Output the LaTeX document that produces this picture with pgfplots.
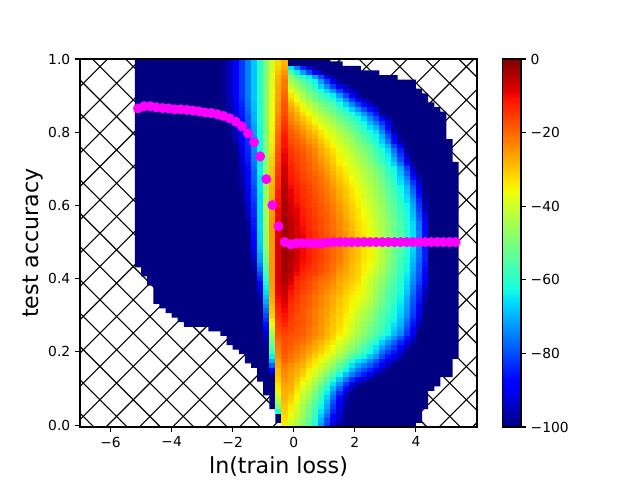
\documentclass[border=0pt]{standalone}
\usepackage{fontspec}
\setmainfont{DejaVu Sans}
\usepackage{pgfplots}
\usepackage{pgfplotstable}
\pgfplotsset{compat=1.18}

% one heatmap cell: 0.2 wide, 0.0125 high in data units
\pgfdeclareplotmark{heatcell}{%
  \pgfpathrectangle{\pgfpoint{-2.29pt}{-1.73pt}}{\pgfpoint{4.58pt}{3.46pt}}%
  \pgfusepathqfill}

\definecolor{jetlow}{rgb}{0,0,0.5}
\definecolor{dotcol}{rgb}{1,0,1}

% first column: row k (y=k/80), then columns x=-2.3,-2.1,...,4.3
\pgfplotstableread[header=false]{
80 -99 -95 -89 -82 -75 -68 -60 -50 -40 -32 -28 -100 -100 -100 -100 -100 -100 -100 -100 -100 -100 -100 -100 -100 -100 -100 -100 -100 -100 -100 -100 -100 -100 -100
79 -99 -95 -89 -82 -75 -68 -60 -50 -40 -32 -28 -100 -100 -100 -100 -100 -100 -100 -100 -100 -100 -100 -100 -100 -100 -100 -100 -100 -100 -100 -100 -100 -100 -100
78 -99 -95 -89 -82 -75 -68 -60 -50 -39 -31 -27 -65 -75 -84 -92 -98 -100 -100 -100 -100 -100 -100 -100 -100 -100 -100 -100 -100 -100 -100 -100 -100 -100 -100
77 -99 -95 -89 -82 -75 -68 -60 -49 -39 -30 -25 -55 -64 -72 -80 -88 -95 -100 -100 -100 -100 -100 -100 -100 -100 -100 -100 -100 -100 -100 -100 -100 -100 -100
76 -99 -95 -89 -82 -75 -68 -60 -49 -38 -28 -23 -48 -54 -60 -64 -72 -80 -88 -97 -100 -100 -100 -100 -100 -100 -100 -100 -100 -100 -100 -100 -100 -100 -100
75 -99 -95 -89 -82 -75 -68 -60 -49 -38 -28 -22 -45 -49 -54 -59 -63 -72 -81 -90 -98 -100 -100 -100 -100 -100 -100 -100 -100 -100 -100 -100 -100 -100 -100
74 -99 -95 -89 -82 -75 -68 -60 -49 -38 -27 -22 -41 -46 -51 -55 -60 -67 -74 -82 -90 -96 -99 -100 -100 -100 -100 -100 -100 -100 -100 -100 -100 -100 -100
73 -99 -95 -89 -82 -75 -68 -60 -49 -37 -27 -21 -37 -42 -47 -52 -56 -61 -66 -73 -81 -88 -94 -98 -100 -100 -100 -100 -100 -100 -100 -100 -100 -100 -100
72 -99 -95 -89 -82 -75 -68 -60 -49 -37 -26 -20 -33 -39 -44 -49 -53 -57 -60 -64 -72 -81 -89 -96 -100 -100 -100 -100 -100 -100 -100 -100 -100 -100 -100
71 -99 -96 -90 -83 -76 -68 -60 -49 -37 -26 -19 -31 -36 -41 -46 -50 -54 -57 -60 -66 -74 -82 -89 -95 -99 -100 -100 -100 -100 -100 -100 -100 -100 -100
70 -99 -96 -90 -84 -76 -69 -61 -49 -36 -25 -18 -28 -33 -38 -42 -46 -50 -53 -56 -61 -67 -74 -81 -87 -93 -98 -100 -100 -100 -100 -100 -100 -100 -100
69 -100 -97 -91 -85 -77 -69 -61 -49 -36 -25 -18 -26 -30 -35 -39 -43 -47 -50 -53 -57 -62 -67 -73 -80 -86 -92 -99 -100 -100 -100 -100 -100 -100 -100
68 -100 -97 -92 -85 -78 -70 -61 -49 -36 -24 -17 -24 -28 -32 -36 -40 -43 -47 -50 -54 -58 -61 -66 -73 -79 -85 -98 -100 -100 -100 -100 -100 -100 -100
67 -100 -98 -93 -86 -79 -70 -61 -49 -36 -23 -16 -23 -26 -30 -33 -37 -41 -44 -47 -51 -55 -58 -62 -67 -74 -80 -88 -96 -100 -100 -100 -100 -100 -100
66 -100 -98 -93 -87 -79 -71 -62 -50 -35 -23 -15 -22 -25 -28 -31 -35 -38 -42 -45 -48 -52 -55 -59 -63 -69 -75 -82 -91 -99 -100 -100 -100 -100 -100
65 -100 -99 -94 -88 -80 -72 -62 -50 -35 -22 -14 -20 -23 -26 -29 -32 -36 -39 -42 -46 -49 -53 -56 -60 -65 -70 -78 -87 -98 -100 -100 -100 -100 -100
64 -100 -99 -95 -88 -81 -72 -62 -50 -35 -21 -13 -19 -21 -24 -27 -30 -33 -37 -40 -43 -47 -50 -54 -58 -61 -65 -74 -84 -97 -100 -100 -100 -100 -100
63 -100 -99 -96 -89 -82 -73 -62 -50 -34 -20 -12 -18 -20 -23 -26 -28 -32 -35 -38 -41 -45 -48 -52 -56 -59 -63 -70 -79 -88 -98 -100 -100 -100 -100
62 -100 -100 -97 -90 -83 -73 -63 -50 -34 -20 -11 -17 -19 -21 -24 -26 -30 -33 -37 -40 -43 -46 -50 -53 -57 -61 -67 -75 -87 -96 -100 -100 -100 -100
61 -100 -100 -98 -91 -83 -74 -63 -50 -33 -19 -11 -16 -18 -20 -22 -25 -28 -32 -35 -38 -41 -44 -48 -51 -54 -59 -64 -70 -81 -91 -99 -100 -100 -100
60 -100 -100 -99 -92 -84 -74 -63 -50 -33 -18 -10 -15 -17 -19 -21 -23 -27 -30 -33 -37 -40 -43 -46 -49 -52 -57 -61 -66 -76 -85 -98 -100 -100 -100
59 -100 -100 -99 -93 -85 -75 -63 -49 -32 -17 -9 -14 -16 -18 -20 -23 -26 -29 -32 -35 -38 -41 -45 -48 -51 -55 -60 -64 -73 -82 -94 -100 -100 -100
58 -100 -100 -100 -93 -85 -75 -64 -49 -31 -17 -9 -14 -16 -18 -20 -22 -25 -28 -31 -35 -38 -40 -44 -47 -50 -54 -59 -63 -70 -80 -92 -100 -100 -100
57 -100 -100 -100 -94 -86 -76 -64 -48 -31 -16 -8 -13 -15 -17 -19 -21 -24 -27 -30 -34 -36 -39 -42 -45 -48 -52 -57 -61 -67 -76 -87 -97 -100 -100
56 -100 -100 -100 -95 -87 -77 -64 -48 -30 -15 -7 -12 -15 -17 -19 -21 -23 -26 -29 -32 -35 -38 -41 -44 -47 -50 -54 -59 -63 -71 -81 -94 -100 -100
55 -100 -100 -100 -96 -88 -78 -64 -48 -30 -15 -7 -12 -14 -16 -18 -20 -22 -25 -28 -31 -34 -37 -40 -43 -46 -49 -53 -58 -62 -69 -78 -90 -98 -100
54 -100 -100 -100 -97 -88 -78 -65 -48 -29 -14 -6 -11 -14 -16 -18 -19 -21 -24 -27 -30 -33 -36 -39 -42 -45 -48 -52 -56 -61 -67 -75 -86 -96 -100
53 -100 -100 -100 -97 -89 -79 -65 -47 -29 -14 -6 -11 -13 -15 -17 -19 -21 -23 -26 -29 -32 -35 -38 -41 -44 -47 -51 -55 -59 -65 -72 -82 -93 -100
52 -100 -100 -100 -98 -90 -80 -65 -47 -28 -13 -5 -10 -12 -14 -16 -18 -20 -22 -25 -28 -31 -34 -37 -40 -43 -46 -50 -54 -58 -63 -69 -79 -91 -100
51 -100 -100 -100 -98 -91 -81 -65 -47 -28 -12 -5 -9 -12 -14 -16 -18 -20 -22 -24 -27 -30 -33 -36 -39 -42 -45 -49 -53 -57 -62 -68 -77 -88 -99
50 -100 -100 -100 -99 -91 -81 -66 -47 -27 -12 -5 -9 -11 -14 -15 -17 -19 -21 -24 -27 -30 -33 -35 -39 -42 -45 -48 -52 -56 -61 -66 -75 -86 -98
49 -100 -100 -100 -99 -92 -82 -66 -46 -27 -11 -4 -8 -11 -13 -15 -17 -19 -21 -23 -26 -29 -32 -35 -38 -41 -44 -48 -51 -55 -60 -65 -73 -84 -97
48 -100 -100 -100 -100 -93 -83 -66 -46 -26 -11 -4 -7 -10 -13 -15 -16 -18 -20 -22 -25 -28 -31 -34 -37 -40 -43 -47 -50 -54 -59 -63 -71 -82 -96
47 -100 -100 -100 -100 -94 -84 -66 -46 -26 -10 -4 -7 -9 -12 -14 -16 -18 -20 -22 -25 -28 -31 -33 -36 -39 -43 -46 -50 -53 -58 -63 -70 -81 -94
46 -100 -100 -100 -100 -95 -84 -66 -46 -26 -10 -4 -6 -9 -12 -14 -16 -18 -19 -22 -24 -27 -30 -33 -36 -39 -42 -46 -49 -53 -58 -62 -69 -79 -92
45 -100 -100 -100 -100 -96 -85 -66 -46 -25 -10 -3 -6 -8 -11 -14 -15 -17 -19 -21 -24 -27 -30 -33 -35 -38 -42 -45 -49 -52 -57 -62 -68 -78 -90
44 -100 -100 -100 -100 -97 -85 -66 -46 -25 -9 -3 -5 -8 -11 -13 -15 -17 -19 -21 -23 -26 -29 -32 -35 -38 -41 -45 -48 -52 -56 -61 -66 -76 -88
43 -100 -100 -100 -100 -98 -86 -66 -46 -25 -9 -3 -5 -8 -10 -13 -15 -17 -19 -21 -23 -26 -29 -32 -34 -37 -41 -44 -48 -52 -56 -61 -66 -76 -87
42 -100 -100 -100 -100 -99 -87 -67 -47 -25 -9 -3 -5 -8 -10 -12 -14 -16 -18 -20 -23 -25 -28 -31 -34 -37 -40 -44 -48 -51 -55 -60 -66 -75 -87
41 -100 -100 -100 -100 -99 -87 -67 -47 -25 -8 -3 -5 -7 -9 -12 -14 -16 -18 -20 -22 -25 -28 -31 -33 -36 -40 -43 -47 -51 -55 -60 -65 -75 -86
40 -100 -100 -100 -100 -100 -88 -67 -47 -25 -8 -3 -5 -7 -9 -12 -14 -16 -18 -20 -22 -25 -28 -30 -33 -36 -40 -43 -47 -51 -55 -60 -65 -75 -85
39 -100 -100 -100 -100 -100 -90 -68 -48 -25 -8 -3 -4 -7 -9 -12 -14 -16 -18 -20 -22 -25 -28 -30 -33 -36 -39 -43 -47 -51 -55 -60 -66 -75 -85
38 -100 -100 -100 -100 -100 -91 -69 -49 -25 -8 -3 -4 -7 -10 -12 -14 -16 -18 -20 -22 -25 -28 -30 -33 -35 -39 -43 -47 -51 -56 -61 -67 -76 -85
37 -100 -100 -100 -100 -100 -93 -71 -51 -25 -8 -3 -4 -7 -10 -12 -14 -16 -18 -20 -22 -25 -28 -30 -33 -35 -39 -43 -47 -52 -56 -61 -68 -76 -85
36 -100 -100 -100 -100 -100 -95 -72 -52 -25 -8 -3 -4 -7 -10 -12 -14 -16 -18 -20 -22 -25 -28 -30 -33 -35 -39 -43 -47 -52 -57 -62 -69 -77 -85
35 -100 -100 -100 -100 -100 -96 -75 -54 -25 -8 -3 -5 -8 -11 -13 -15 -17 -19 -21 -23 -26 -29 -31 -34 -36 -40 -44 -48 -53 -58 -63 -70 -78 -86
34 -100 -100 -100 -100 -100 -98 -78 -56 -25 -8 -3 -5 -9 -12 -14 -15 -17 -19 -21 -24 -26 -29 -31 -34 -37 -41 -45 -49 -53 -58 -63 -71 -78 -87
33 -100 -100 -100 -100 -100 -99 -81 -58 -25 -8 -4 -6 -10 -13 -15 -16 -18 -20 -22 -25 -27 -29 -31 -35 -38 -42 -46 -50 -54 -59 -64 -72 -79 -88
32 -100 -100 -100 -100 -100 -100 -84 -60 -25 -8 -4 -7 -12 -14 -16 -18 -20 -21 -23 -26 -28 -30 -32 -36 -40 -44 -47 -51 -55 -60 -65 -73 -80 -89
31 -100 -100 -100 -100 -100 -100 -87 -62 -25 -8 -5 -8 -13 -15 -17 -19 -21 -22 -24 -27 -29 -31 -33 -37 -40 -45 -48 -52 -56 -61 -66 -74 -81 -91
30 -100 -100 -100 -100 -100 -100 -91 -64 -26 -9 -6 -10 -13 -15 -17 -19 -22 -23 -25 -27 -30 -32 -34 -37 -41 -45 -49 -53 -57 -61 -67 -75 -83 -93
29 -100 -100 -100 -100 -100 -100 -94 -66 -26 -9 -6 -11 -14 -16 -18 -20 -22 -24 -26 -28 -31 -33 -35 -38 -41 -46 -50 -54 -58 -62 -68 -77 -84 -94
28 -100 -100 -100 -100 -100 -100 -97 -68 -27 -10 -7 -12 -15 -17 -19 -21 -23 -25 -27 -29 -32 -34 -36 -39 -42 -46 -51 -55 -58 -63 -70 -78 -85 -96
27 -100 -100 -100 -100 -100 -100 -98 -71 -28 -11 -8 -13 -15 -17 -19 -21 -23 -25 -27 -30 -32 -35 -37 -40 -43 -47 -52 -55 -59 -64 -71 -79 -86 -97
26 -100 -100 -100 -100 -100 -100 -99 -74 -29 -12 -9 -14 -16 -18 -19 -21 -23 -25 -28 -30 -33 -35 -38 -41 -44 -48 -53 -56 -60 -65 -72 -80 -88 -98
25 -100 -100 -100 -100 -100 -100 -100 -77 -30 -13 -10 -14 -16 -18 -20 -22 -24 -26 -28 -31 -33 -36 -40 -43 -46 -50 -54 -57 -61 -66 -73 -81 -90 -99
24 -100 -100 -100 -100 -100 -100 -100 -80 -31 -14 -11 -15 -17 -18 -20 -22 -24 -26 -29 -31 -34 -37 -41 -44 -47 -51 -55 -58 -62 -67 -74 -82 -91 -100
23 -100 -100 -100 -100 -100 -100 -100 -83 -34 -15 -12 -15 -17 -18 -20 -22 -24 -27 -29 -32 -35 -38 -42 -45 -48 -52 -56 -59 -63 -69 -76 -84 -93 -100
22 -100 -100 -100 -100 -100 -100 -100 -86 -37 -16 -13 -16 -17 -18 -20 -22 -25 -27 -30 -32 -35 -39 -43 -46 -49 -53 -56 -60 -65 -70 -78 -86 -95 -100
21 -100 -100 -100 -100 -100 -100 -100 -90 -41 -17 -15 -16 -18 -19 -21 -23 -25 -28 -30 -33 -36 -40 -44 -47 -51 -54 -57 -62 -67 -72 -80 -88 -98 -100
20 -100 -100 -100 -100 -100 -100 -100 -93 -45 -18 -16 -17 -18 -19 -21 -23 -25 -28 -31 -34 -37 -41 -45 -48 -52 -55 -59 -63 -69 -74 -82 -90 -100 -100
19 -100 -100 -100 -100 -100 -100 -100 -95 -48 -19 -17 -18 -19 -20 -22 -24 -26 -29 -32 -36 -39 -43 -47 -50 -54 -58 -63 -68 -73 -79 -86 -93 -100 -100
18 -100 -100 -100 -100 -100 -100 -100 -97 -51 -21 -17 -18 -20 -21 -23 -26 -28 -31 -34 -38 -41 -45 -49 -53 -57 -61 -67 -73 -78 -84 -91 -97 -100 -100
17 -100 -100 -100 -100 -100 -100 -100 -99 -54 -22 -18 -19 -21 -23 -25 -27 -30 -33 -36 -40 -44 -48 -52 -56 -60 -65 -72 -77 -82 -88 -95 -100 -100 -100
16 -100 -100 -100 -100 -100 -100 -100 -100 -58 -23 -18 -20 -22 -24 -26 -29 -31 -34 -38 -42 -46 -50 -54 -58 -62 -68 -76 -81 -85 -92 -99 -100 -100 -100
15 -100 -100 -100 -100 -100 -100 -100 -100 -64 -24 -19 -21 -23 -25 -28 -31 -34 -37 -41 -45 -50 -55 -59 -63 -68 -73 -80 -86 -90 -96 -100 -100 -100 -100
14 -100 -100 -100 -100 -100 -100 -100 -100 -70 -26 -20 -22 -24 -27 -30 -33 -37 -40 -44 -49 -54 -60 -65 -69 -74 -79 -85 -91 -95 -100 -100 -100 -100 -100
13 -100 -100 -100 -100 -100 -100 -100 -100 -78 -27 -22 -24 -26 -28 -32 -35 -40 -43 -48 -53 -59 -65 -71 -75 -79 -84 -90 -96 -100 -100 -100 -100 -100 -100
12 -100 -100 -100 -100 -100 -100 -100 -100 -87 -29 -23 -25 -27 -30 -34 -38 -42 -46 -51 -57 -63 -70 -76 -80 -84 -89 -95 -100 -100 -100 -100 -100 -100 -100
11 -100 -100 -100 -100 -100 -100 -100 -100 -100 -30 -24 -26 -28 -31 -35 -40 -44 -50 -55 -62 -69 -75 -80 -85 -90 -95 -100 -100 -100 -100 -100 -100 -100 -100
10 -100 -100 -100 -100 -100 -100 -100 -100 -100 -31 -25 -26 -30 -34 -37 -43 -48 -54 -60 -68 -76 -83 -88 -93 -98 -100 -100 -100 -100 -100 -100 -100 -100 -100
9 -100 -100 -100 -100 -100 -100 -100 -100 -100 -33 -26 -27 -31 -36 -40 -45 -51 -57 -65 -73 -82 -90 -96 -100 -100 -100 -100 -100 -100 -100 -100 -100 -100 -100
8 -100 -100 -100 -100 -100 -100 -100 -100 -100 -34 -27 -28 -33 -39 -42 -48 -54 -61 -70 -78 -88 -96 -100 -100 -100 -100 -100 -100 -100 -100 -100 -100 -100 -100
7 -100 -100 -100 -100 -100 -100 -100 -100 -100 -38 -28 -29 -34 -40 -44 -50 -57 -64 -74 -83 -93 -99 -100 -100 -100 -100 -100 -100 -100 -100 -100 -100 -100 -100
6 -100 -100 -100 -100 -100 -100 -100 -100 -100 -42 -28 -31 -35 -42 -46 -52 -59 -67 -77 -87 -96 -100 -100 -100 -100 -100 -100 -100 -100 -100 -100 -100 -100 -100
5 -100 -100 -100 -100 -100 -100 -100 -100 -100 -46 -29 -32 -37 -43 -48 -54 -61 -69 -80 -89 -97 -100 -100 -100 -100 -100 -100 -100 -100 -100 -100 -100 -100 -100
4 -100 -100 -100 -100 -100 -100 -100 -100 -100 -50 -30 -34 -39 -45 -50 -56 -63 -71 -82 -91 -98 -100 -100 -100 -100 -100 -100 -100 -100 -100 -100 -100 -100 -100
3 -100 -100 -100 -100 -100 -100 -100 -100 -100 -62 -31 -35 -40 -46 -51 -58 -65 -74 -84 -92 -99 -100 -100 -100 -100 -100 -100 -100 -100 -100 -100 -100 -100 -100
2 -100 -100 -100 -100 -100 -100 -100 -100 -100 -100 -32 -37 -41 -47 -52 -59 -68 -77 -87 -93 -100 -100 -100 -100 -100 -100 -100 -100 -100 -100 -100 -100 -100 -100
1 -100 -100 -100 -100 -100 -100 -100 -100 -100 -100 -33 -38 -43 -48 -53 -60 -70 -80 -90 -94 -100 -100 -100 -100 -100 -100 -100 -100 -100 -100 -100 -100 -100 -100
0 -100 -100 -100 -100 -100 -100 -100 -100 -100 -100 -34 -40 -44 -49 -54 -62 -72 -82 -93 -97 -100 -100 -100 -100 -100 -100 -100 -100 -100 -100 -100 -100 -100 -100
}\heat

\begin{document}
\begin{tikzpicture}
\path[use as bounding box] (0,0) rectangle (6.4in,4.8in);

% hatching behind the axes, in picture pixels
\begin{scope}[x=0.01in,y=-0.01in,yshift=4.8in]
  \clip (80,59) rectangle (477,427);
  \foreach \k in {-15,...,20} {
    \draw[black,line width=0.8pt] ({33.333*\k},0) -- ({33.333*\k+480},480);
  }
  \foreach \k in {0,...,34} {
    \draw[black,line width=0.8pt] ({33.333*\k},0) -- ({33.333*\k-480},480);
  }
\end{scope}

\begin{axis}[
  at={(0.8in,0.53in)}, anchor=south west,
  scale only axis, width=3.97in, height=3.68in,
  xmin=-7, xmax=6, ymin=-0.005, ymax=1.0,
  axis on top, clip marker paths=true,
  axis line style={line width=0.8pt},
  tick align=outside, tick pos=left,
  major tick length=0.0486in,
  tick style={black,line width=0.8pt},
  xtick={-6,-4,-2,0,2,4},
  xticklabels={−6,−4,−2,0,2,4},
  ytick={0,0.2,0.4,0.6,0.8,1.0},
  yticklabels={0.0,0.2,0.4,0.6,0.8,1.0},
  tick label style={font=\fontsize{10}{12}\selectfont},
  every axis x label/.style={at={(axis description cs:0.5,0)},anchor=center,yshift=-0.395in},
  every axis y label/.style={at={(axis description cs:0,0.5)},rotate=90,anchor=center,yshift=0.47in},
  xlabel={\fontsize{16}{19}\selectfont ln(train loss)},
  ylabel={\fontsize{16}{19}\selectfont test accuracy},
  point meta min=-100, point meta max=0,
  colormap={jetm}{
    rgb(0)=(0,0,0.5) rgb(22)=(0,0,1) rgb(25)=(0,0,1) rgb(68)=(0,0.86,1)
    rgb(70)=(0,0.9,0.968) rgb(75)=(0.081,1,0.887) rgb(128)=(0.935,1,0.032)
    rgb(130)=(0.968,0.963,0) rgb(132)=(1,0.926,0) rgb(178)=(1,0.074,0)
    rgb(182)=(0.909,0,0) rgb(200)=(0.5,0,0)},
  colorbar,
  colorbar style={
    at={(1.0642,1)}, anchor=north west,
    width=0.185in, height=3.68in,
    ytick={-100,-80,-60,-40,-20,0},
    yticklabels={−100,−80,−60,−40,−20,0},
    ytick pos=right, yticklabel pos=right,
    tick align=outside,
    major tick length=0.0486in,
    axis line style={line width=0.8pt},
    tick style={black,line width=0.8pt},
    tick label style={font=\fontsize{10}{12}\selectfont},
  },
]

% the region that holds data, all at the floor value
\addplot[fill=jetlow,draw=none,forget plot] coordinates {
  (-5.2,1.0) (1.2,1.0) (1.2,0.99375) (1.6,0.99375) (1.6,0.98125) (2.2,0.98125)
  (2.2,0.96875) (2.8,0.96875) (2.8,0.95625) (3.4,0.95625) (3.4,0.94375) (4.0,0.94375)
  (4.0,0.91875) (4.2,0.91875) (4.2,0.90625) (4.4,0.90625) (4.4,0.88125) (4.6,0.88125)
  (4.6,0.86875) (4.8,0.86875) (4.8,0.85625) (5.0,0.85625) (5.0,0.78125) (5.2,0.78125)
  (5.2,0.71875) (5.4,0.71875) (5.4,0.18125) (5.2,0.18125) (5.2,0.13125) (4.8,0.13125)
  (4.8,0.10625) (4.6,0.10625) (4.6,0.09375) (4.4,0.09375) (4.4,0.04375) (4.2,0.04375)
  (4.2,0.00625) (4.0,0.00625) (4.0,-0.005) (-0.4,-0.005) (-0.4,0.00625) (-0.6,0.00625)
  (-0.6,0.04375) (-0.8,0.04375) (-0.8,0.08125) (-1.0,0.08125) (-1.0,0.11875) (-1.2,0.11875)
  (-1.2,0.15625) (-1.4,0.15625) (-1.4,0.16875) (-1.6,0.16875) (-1.6,0.19375) (-1.8,0.19375)
  (-1.8,0.20625) (-2.0,0.20625) (-2.0,0.21875) (-2.2,0.21875) (-2.2,0.24375) (-2.4,0.24375)
  (-2.4,0.25625) (-2.8,0.25625) (-2.8,0.26875) (-3.6,0.26875) (-3.6,0.28125) (-3.8,0.28125)
  (-3.8,0.29375) (-4.0,0.29375) (-4.0,0.30625) (-4.2,0.30625) (-4.2,0.31875) (-4.4,0.31875)
  (-4.4,0.33125) (-4.6,0.33125) (-4.6,0.38125) (-4.8,0.38125) (-4.8,0.40625) (-5.0,0.40625)
  (-5.0,0.43125) (-5.2,0.43125)
} -- cycle;

% coloured cells, one plot per column; floor cells are left to the region above
\pgfplotsinvokeforeach{1,...,34}{
  \addplot[scatter,only marks,mark=heatcell,forget plot,point meta=explicit]
    table[x expr={-2.5+0.2*#1},
          y expr={\thisrowno{#1}>-99.5 ? \thisrowno{0}/80 : nan},
          meta index=#1] {\heat};
}

% best test accuracy per bin
\addplot[only marks,mark=*,mark size=3.4pt,color=dotcol,mark options={fill=dotcol,draw=dotcol}] coordinates {
  (-5.1,0.865) (-4.9,0.871) (-4.7,0.871) (-4.5,0.868) (-4.3,0.866) (-4.1,0.865)
  (-3.9,0.8625) (-3.7,0.8625) (-3.5,0.861) (-3.3,0.859) (-3.1,0.857) (-2.9,0.854)
  (-2.7,0.8525) (-2.5,0.849) (-2.3,0.8445) (-2.1,0.838) (-1.9,0.829) (-1.7,0.816)
  (-1.5,0.797) (-1.3,0.773) (-1.1,0.734) (-0.9,0.672) (-0.7,0.601) (-0.5,0.543)
  (-0.3,0.5) (-0.1,0.494) (0.1,0.497) (0.3,0.497) (0.5,0.497) (0.7,0.497) (0.9,0.497)
  (1.1,0.499) (1.3,0.5) (1.5,0.5) (1.7,0.5) (1.9,0.5) (2.1,0.5) (2.3,0.5) (2.5,0.5)
  (2.7,0.5) (2.9,0.5) (3.1,0.5) (3.3,0.5) (3.5,0.5) (3.7,0.5) (3.9,0.5) (4.1,0.5)
  (4.3,0.5) (4.5,0.5) (4.7,0.5) (4.9,0.5) (5.1,0.5) (5.3,0.5)
};
\end{axis}
\end{tikzpicture}
\end{document}
